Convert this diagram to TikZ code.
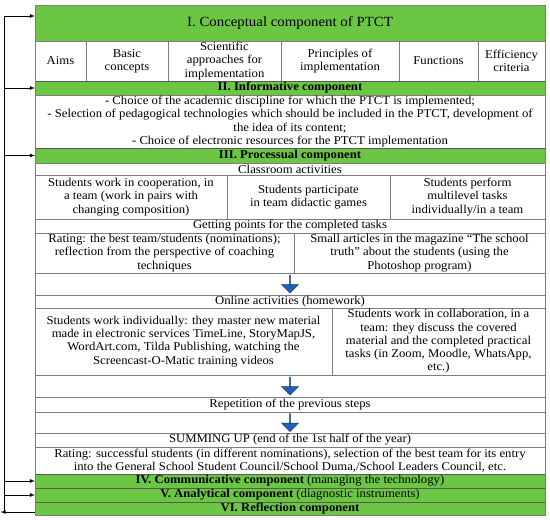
\documentclass[tikz,border=0pt]{standalone}
\usepackage{fontspec}
\setmainfont{Liberation Serif}[FakeStretch=1.06]
\usetikzlibrary{shapes,arrows,positioning}
\definecolor{compgreen}{RGB}{107,199,67}
\definecolor{linegray}{RGB}{125,125,125}
\definecolor{flowblue}{RGB}{30,96,180}

\begin{document}
\begin{tikzpicture}[x=1pt, y=-1pt,
    cell/.style={draw=linegray, line width=0.8pt, fill=white, anchor=north west,
                 inner sep=0pt, outer sep=0pt, align=center,
                 font=\fontsize{12}{13.2}\selectfont},
    comp/.style={cell, fill=compgreen, draw=black!65},
    downarrow/.style={single arrow, shape border rotate=270, fill=flowblue,
                      draw=flowblue!60!black, line width=0.4pt, inner sep=0pt,
                      minimum height=18pt, minimum width=17pt,
                      single arrow head extend=5pt}]
  \useasboundingbox (0,0) rectangle (550,520);

  % I. conceptual component
  \node[comp, minimum width=510, minimum height=36, font=\fontsize{14}{16}\selectfont]
    (hI) at (35,5) {I. Conceptual component of PTCT};
  \node[cell, minimum width=51, minimum height=40] (cAims) at (35,41) {Aims};
  \node[cell, minimum width=82, minimum height=40] (cBasic) at (86,41) {Basic\\concepts};
  \node[cell, minimum width=113, minimum height=40] (cSci) at (168,41)
    {Scientific\\approaches for\\implementation};
  \node[cell, minimum width=118, minimum height=40] (cPrin) at (281,41)
    {Principles of\\implementation};
  \node[cell, minimum width=79, minimum height=40] (cFunc) at (399,41) {Functions};
  \node[cell, minimum width=67, minimum height=40] (cEff) at (478,41) {Efficiency\\criteria};

  % II. informative component
  \node[comp, minimum width=510, minimum height=14] (hII) at (35,81)
    {\textbf{II. Informative component}};
  \node[cell, minimum width=510, minimum height=53] (info) at (35,95)
    {- Choice of the academic discipline for which the PTCT is implemented;\\
     - Selection of pedagogical technologies which should be included in the PTCT, development of\\
     the idea of its content;\\
     - Choice of electronic resources for the PTCT implementation};

  % III. processual component
  \node[comp, minimum width=510, minimum height=15] (hIII) at (35,148)
    {\textbf{III. Processual component}};
  \node[cell, minimum width=510, minimum height=12] (cls) at (35,163) {Classroom activities};
  \node[cell, minimum width=192, minimum height=44] (clsA) at (35,175)
    {Students work in cooperation, in\\a team (work in pairs with\\changing composition)};
  \node[cell, minimum width=163, minimum height=44] (clsB) at (227,175)
    {Students participate\\in team didactic games};
  \node[cell, minimum width=155, minimum height=44] (clsC) at (390,175)
    {Students perform\\multilevel tasks\\individually/in a team};
  \node[cell, minimum width=510, minimum height=14] (pts) at (35,219)
    {Getting points for the completed tasks};
  \node[cell, minimum width=259, minimum height=40] (rateA) at (35,233)
    {Rating: the best team/students (nominations);\\reflection from the perspective of coaching\\techniques};
  \node[cell, minimum width=251, minimum height=40] (rateB) at (294,233)
    {Small articles in the magazine “The school\\truth” about the students (using the\\Photoshop program)};
  \node[cell, minimum width=510, minimum height=22] (gap1) at (35,273) {};
  \node[cell, minimum width=510, minimum height=13] (onl) at (35,295)
    {Online activities (homework)};
  \node[cell, minimum width=297, minimum height=67] (onlA) at (35,308)
    {Students work individually: they master new material\\made in electronic services TimeLine, StoryMapJS,\\WordArt.com, Tilda Publishing, watching the\\Screencast-O-Matic training videos};
  \node[cell, minimum width=213, minimum height=67] (onlB) at (332,308)
    {Students work in collaboration, in a\\team: they discuss the covered\\material and the completed practical\\tasks (in Zoom, Moodle, WhatsApp,\\etc.)};
  \node[cell, minimum width=510, minimum height=22] (gap2) at (35,375) {};
  \node[cell, minimum width=510, minimum height=15] (rep) at (35,397)
    {Repetition of the previous steps};
  \node[cell, minimum width=510, minimum height=21] (gap3) at (35,412) {};
  \node[cell, minimum width=510, minimum height=14] (sum) at (35,433)
    {SUMMING UP (end of the 1st half of the year)};
  \node[cell, minimum width=510, minimum height=27] (rateC) at (35,447)
    {Rating: successful students (in different nominations), selection of the best team for its entry\\into the General School Student Council/School Duma,/School Leaders Council, etc.};

  % flow arrows
  \node[downarrow] (arr1) at (290,284) {};
  \node[downarrow] (arr2) at (290,386) {};
  \node[downarrow] (arr3) at (290,422.5) {};

  % IV-VI components
  \node[comp, minimum width=510, minimum height=14] (hIV) at (35,474)
    {\textbf{IV. Communicative component} (managing the technology)};
  \node[comp, minimum width=510, minimum height=14] (hV) at (35,488)
    {\textbf{V. Analytical component} (diagnostic instruments)};
  \node[comp, minimum width=510, minimum height=13] (hVI) at (35,502)
    {\textbf{VI. Reflection component}};
  \draw[linegray, line width=1pt] (hI.north west) rectangle (hVI.south east);

  % feedback loop
  \coordinate (fbTop) at (4,16);
  \coordinate (fbEnd) at (4,512);
  \coordinate (fbTip) at (0.5,512);
  \draw[line width=0.8pt] (fbTop) -- (fbEnd);
  \draw[line width=0.8pt, -latex] (fbTop) -- (fbTop -| hI.west);
  \foreach \c in {hII,hIII,hIV,hV}
    \draw[line width=0.8pt, -latex] (\c.west -| fbTop) -- (\c.west);
  \draw[line width=0.8pt, -latex] (fbEnd -| hVI.west) -- (fbTip);
\end{tikzpicture}
\end{document}
